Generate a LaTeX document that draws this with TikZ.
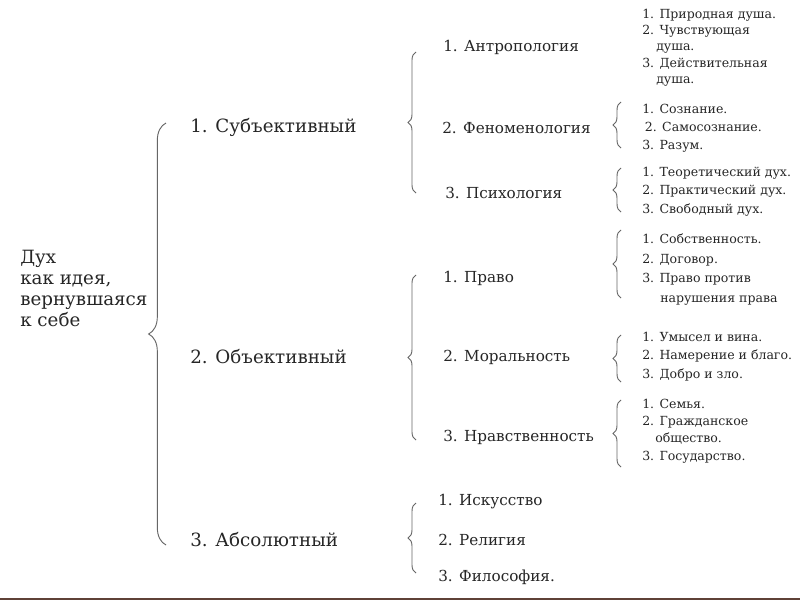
\documentclass[tikz,border=0pt]{standalone}
\usepackage{fontspec}
\setmainfont{DejaVu Serif}
\usetikzlibrary{decorations.pathreplacing}

\begin{document}
\begin{tikzpicture}[x=0.75pt, y=-0.75pt, every node/.style={text=black!85, inner sep=0pt}, top/.style={anchor=west, align=left, font=\fontsize{13.7}{15.75}\selectfont}, mid/.style={anchor=west, font=\fontsize{11.4}{13}\selectfont}, item/.style={anchor=west, align=left, font=\fontsize{9.4}{#1}\selectfont}, brc/.style={draw=black!60, line width=0.7pt, decorate, decoration={brace, amplitude=#1}}]
\fill[white] (0,0) rectangle (800,600);
\useasboundingbox (0,0) rectangle (800,600);
% first level
\node[top] (spirit) at (20,288) {Дух\\как идея,\\вернувшаяся\\к себе};
\draw[brc=13pt] (166,545) -- (166,123);
\node[top] (subj) at (190,127) {1. Субъективный};
\node[top] (obj) at (190,357) {2. Объективный};
\node[top] (abs) at (190,540) {3. Абсолютный};
% second level
\draw[brc=6pt] (416,193) -- (416,52);
\draw[brc=6pt] (416,440) -- (416,275);
\draw[brc=6pt] (416,573) -- (416,503);
\node[mid] (anthro) at (443,47) {1. Антропология};
\node[mid] (phen) at (442,128) {2. Феноменология};
\node[mid] (psych) at (445,193) {3. Психология};
\node[mid] (law) at (443,278) {1. Право};
\node[mid] (moral) at (443,357) {2. Моральность};
\node[mid] (ethic) at (443,437) {3. Нравственность};
\node[mid] (art) at (438,502) {1. Искусство};
\node[mid] (relig) at (438,540) {2. Религия};
\node[mid] (philo) at (438,577) {3. Философия.};
% third level
\draw[brc=6pt] (621,148) -- (621,102);
\draw[brc=6pt] (621,212) -- (621,168);
\draw[brc=6pt] (621,298) -- (621,230);
\draw[brc=6pt] (621,382) -- (621,335);
\draw[brc=6pt] (621,467) -- (621,400);
\node[item=12.2pt] (anthrolist) at (642,47.5) {1. Природная душа.\\2. Чувствующая\\\hspace*{10.5pt}душа.\\3. Действительная\\\hspace*{10.5pt}душа.};
\node[item=13.5pt] (phenlist) at (642,128) {1. Сознание.\\\hspace*{2pt}2. Самосознание.\\3. Разум.};
\node[item=13.9pt] (psychlist) at (642,191.5) {1. Теоретический дух.\\2. Практический дух.\\3. Свободный дух.};
\node[item=14.8pt] (lawlist) at (642,269.5) {1. Собственность.\\2. Договор.\\3. Право против\\\hspace*{13.5pt}нарушения права};
\node[item=13.9pt] (morallist) at (642,356.5) {1. Умысел и вина.\\2. Намерение и благо.\\3. Добро и зло.};
\node[item=13pt] (ethiclist) at (642,431) {1. Семья.\\2. Гражданское\\\hspace*{9.75pt}общество.\\3. Государство.};
% bottom rule
\draw[line width=1.5pt, draw={rgb,255:red,95;green,65;blue,55}] (0,598.5) -- (800,598.5);
\end{tikzpicture}
\end{document}
